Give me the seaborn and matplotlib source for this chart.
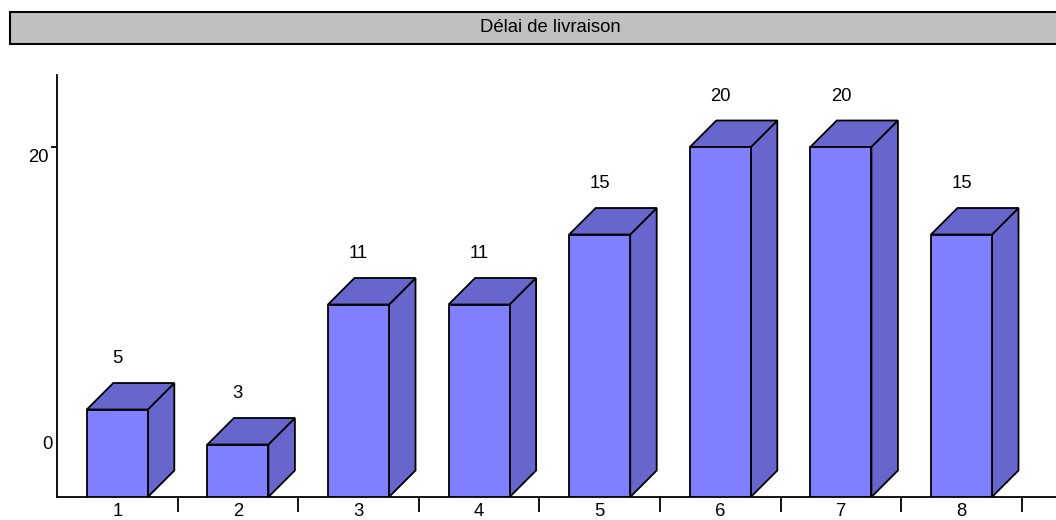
import numpy as np
import pandas as pd
import seaborn as sns
import matplotlib.pyplot as plt
from matplotlib.patches import Polygon, Rectangle
from matplotlib.transforms import ScaledTranslation

categories = ["1", "2", "3", "4", "5", "6", "7", "8"]
values = [5, 3, 11, 11, 15, 20, 20, 15]
title = "Délai de livraison"

front_color = "#8080ff"
shade_color = "#6666cc"

sns.set_style("white")
plt.rcParams["font.family"] = ["Liberation Sans", "DejaVu Sans"]
plt.rcParams["text.color"] = "black"
plt.rcParams["xtick.color"] = "black"
plt.rcParams["ytick.color"] = "black"

fs = 13.3

df = pd.DataFrame({"cat": categories, "val": values})

W, H = 1056, 520
fig = plt.figure(figsize=(W / 100, H / 100), dpi=100)

# axes placed in pixels: left spine x=57, baseline y=497, ~120.6 px per category
px_per_cat = 120.6
px_per_unit = 17.5
ax_left, ax_bottom, ax_top = 57, 497, 75
ax = fig.add_axes([ax_left / W, (H - ax_bottom) / H,
                   9 * px_per_cat / W, (ax_bottom - ax_top) / H])
ax.set_xlim(-0.5, 8.5)
ax.set_ylim(0, (ax_bottom - ax_top) / px_per_unit)

bar_w = 61 / px_per_cat
dx = 26.5 / px_per_cat
dy = 26.5 / px_per_unit

# side and top faces for the 3D look
for i, v in enumerate(values):
    x0, x1 = i - bar_w / 2, i + bar_w / 2
    side = Polygon([(x1, 0), (x1 + dx, dy), (x1 + dx, v + dy), (x1, v)],
                   closed=True, facecolor=shade_color, edgecolor="black",
                   linewidth=1.3, zorder=2)
    top = Polygon([(x0, v), (x0 + dx, v + dy), (x1 + dx, v + dy), (x1, v)],
                  closed=True, facecolor=shade_color, edgecolor="black",
                  linewidth=1.3, zorder=2)
    ax.add_patch(side)
    ax.add_patch(top)

sns.barplot(data=df, x="cat", y="val", order=categories, color=front_color,
            saturation=1, width=bar_w, edgecolor="black", linewidth=1.3,
            ax=ax, zorder=3)
ax.set_xlim(-0.5, 8.5)

for i, v in enumerate(values):
    ax.text(i, v + dy + 1.4, str(v), ha="center", va="center", fontsize=fs)

sns.despine(ax=ax, top=True, right=True)
for s in ["left", "bottom"]:
    ax.spines[s].set_color("black")
    ax.spines[s].set_linewidth(1.3)
ax.set_xlabel("")
ax.set_ylabel("")

# category labels centred, tick marks between categories
ax.set_xticks(range(len(categories)), labels=categories)
ax.set_xticks(np.arange(0.5, 8.5, 1.0), minor=True)
ax.tick_params(axis="x", which="major", length=0, pad=4, labelsize=fs)
ax.tick_params(axis="x", which="minor", length=11, width=1.3, color="black",
               direction="out", bottom=True)

ax.set_yticks([20], labels=["20"])
ax.tick_params(axis="y", length=4, width=1.3, color="black", direction="out",
               left=True, pad=2, labelsize=fs)
for lab in ax.get_yticklabels():
    lab.set_transform(lab.get_transform()
                      + ScaledTranslation(0, -0.08, fig.dpi_scale_trans))
ax.text(-0.54, 3.0, "0", ha="right", va="center", fontsize=fs)

# title bar
fig.patches.append(Rectangle((10 / W, (H - 44) / H), 1090 / W, 32 / H,
                             transform=fig.transFigure, facecolor="#c0c0c0",
                             edgecolor="black", linewidth=1.5, zorder=0))
fig.text(550 / W, (H - 28) / H, title, ha="center", va="center", fontsize=fs)

fig.savefig("out.png", dpi=100)
